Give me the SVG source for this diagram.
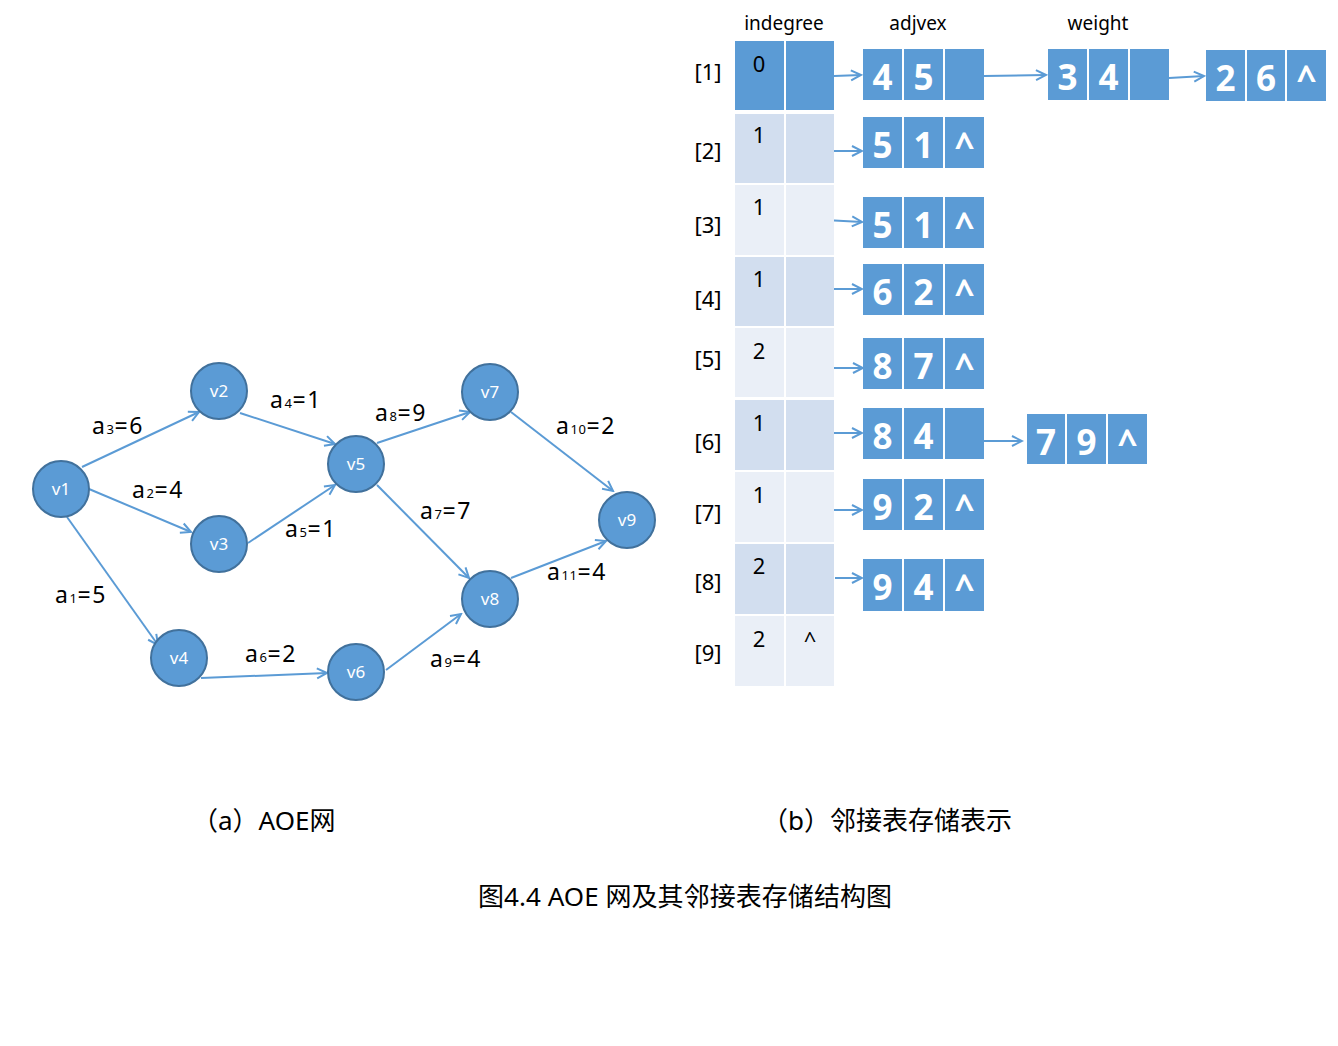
<svg xmlns="http://www.w3.org/2000/svg" width="1338" height="1046" viewBox="0 0 1338 1046">
<style>
.edge{stroke:#5b9bd5;stroke-width:2;fill:none}
.node circle{fill:#5b9bd5;stroke:#41719c;stroke-width:2}
.vl{fill:#fff;font-family:"Noto Sans","Open Sans",sans-serif;font-size:17px;text-anchor:middle}
.lbl{fill:#000;font-family:"Noto Sans","Open Sans",sans-serif;font-size:23px;letter-spacing:1.6px}
.sub{font-size:13px;letter-spacing:0.5px}
.dk{fill:#5b9bd5}
.e{fill:#d2deef}
.o{fill:#eaeff7}
.num{fill:#000;font-family:"Noto Sans","Open Sans",sans-serif;font-size:22px;text-anchor:middle}
.hd{fill:#000;font-family:"Noto Sans","Open Sans",sans-serif;font-size:19px;text-anchor:middle}
.box{fill:#5b9bd5}
.bt{fill:#fff;font-family:"Open Sans","Noto Sans",sans-serif;font-weight:bold;font-size:35px;text-anchor:middle}
.cap{fill:#000;font-family:"Noto Sans","Noto Sans CJK SC",sans-serif;font-size:26px}
.ttl{fill:#000;font-family:"Noto Sans","Noto Sans CJK SC",sans-serif;font-size:26px}
</style>
<defs>
<marker id="arr" markerUnits="userSpaceOnUse" markerWidth="14" markerHeight="14" refX="12" refY="7" orient="auto">
<path d="M2,2 L12,7 L2,12" fill="none" stroke="#5b9bd5" stroke-width="2"/>
</marker>
</defs>

<g id="connectors">
<line class="edge" x1="82" y1="467" x2="199" y2="412" marker-end="url(#arr)"/>
<line class="edge" x1="89" y1="489" x2="191" y2="532" marker-end="url(#arr)"/>
<line class="edge" x1="67" y1="517" x2="158" y2="645" marker-end="url(#arr)"/>
<line class="edge" x1="240" y1="413" x2="335" y2="444" marker-end="url(#arr)"/>
<line class="edge" x1="248" y1="543" x2="335" y2="485" marker-end="url(#arr)"/>
<line class="edge" x1="201" y1="678" x2="327" y2="673" marker-end="url(#arr)"/>
<line class="edge" x1="377" y1="443" x2="470" y2="412" marker-end="url(#arr)"/>
<line class="edge" x1="377" y1="485" x2="469" y2="578" marker-end="url(#arr)"/>
<line class="edge" x1="386" y1="670" x2="461" y2="614" marker-end="url(#arr)"/>
<line class="edge" x1="511" y1="412" x2="613" y2="491" marker-end="url(#arr)"/>
<line class="edge" x1="511" y1="578" x2="606" y2="541" marker-end="url(#arr)"/>
<line class="edge" x1="834" y1="76" x2="861" y2="75" marker-end="url(#arr)"/>
<line class="edge" x1="984" y1="76" x2="1046" y2="75" marker-end="url(#arr)"/>
<line class="edge" x1="1169" y1="78" x2="1204" y2="76" marker-end="url(#arr)"/>
<line class="edge" x1="831" y1="151" x2="862" y2="151" marker-end="url(#arr)"/>
<line class="edge" x1="825" y1="220" x2="862" y2="222" marker-end="url(#arr)"/>
<line class="edge" x1="820" y1="289" x2="862" y2="289" marker-end="url(#arr)"/>
<line class="edge" x1="827" y1="368" x2="863" y2="368" marker-end="url(#arr)"/>
<line class="edge" x1="831" y1="433" x2="862" y2="433" marker-end="url(#arr)"/>
<line class="edge" x1="984" y1="441" x2="1022" y2="441" marker-end="url(#arr)"/>
<line class="edge" x1="830" y1="510" x2="862" y2="510" marker-end="url(#arr)"/>
<line class="edge" x1="835" y1="578" x2="862" y2="578" marker-end="url(#arr)"/>
</g>

<g id="edge-labels">
<text class="lbl" x="92" y="434">a<tspan class="sub">3</tspan>=6</text>
<text class="lbl" x="270" y="408">a<tspan class="sub">4</tspan>=1</text>
<text class="lbl" x="132" y="498">a<tspan class="sub">2</tspan>=4</text>
<text class="lbl" x="285" y="537">a<tspan class="sub">5</tspan>=1</text>
<text class="lbl" x="55" y="603">a<tspan class="sub">1</tspan>=5</text>
<text class="lbl" x="245" y="662">a<tspan class="sub">6</tspan>=2</text>
<text class="lbl" x="375" y="421">a<tspan class="sub">8</tspan>=9</text>
<text class="lbl" x="556" y="434">a<tspan class="sub">10</tspan>=2</text>
<text class="lbl" x="420" y="519">a<tspan class="sub">7</tspan>=7</text>
<text class="lbl" x="547" y="580">a<tspan class="sub">11</tspan>=4</text>
<text class="lbl" x="430" y="667">a<tspan class="sub">9</tspan>=4</text>
</g>

<g id="v1" class="node"><circle cx="61" cy="489" r="28"/><text class="vl" x="61" y="495">v1</text></g>
<g id="v2" class="node"><circle cx="219" cy="391" r="28"/><text class="vl" x="219" y="397">v2</text></g>
<g id="v3" class="node"><circle cx="219" cy="544" r="28"/><text class="vl" x="219" y="550">v3</text></g>
<g id="v4" class="node"><circle cx="179" cy="658" r="28"/><text class="vl" x="179" y="664">v4</text></g>
<g id="v5" class="node"><circle cx="356" cy="464" r="28"/><text class="vl" x="356" y="470">v5</text></g>
<g id="v6" class="node"><circle cx="356" cy="672" r="28"/><text class="vl" x="356" y="678">v6</text></g>
<g id="v7" class="node"><circle cx="490" cy="392" r="28"/><text class="vl" x="490" y="398">v7</text></g>
<g id="v8" class="node"><circle cx="490" cy="599" r="28"/><text class="vl" x="490" y="605">v8</text></g>
<g id="v9" class="node"><circle cx="627" cy="520" r="28"/><text class="vl" x="627" y="526">v9</text></g>

<g id="headers">
<text class="hd" x="784" y="30">indegree</text>
<text class="hd" x="918" y="30">adjvex</text>
<text class="hd" x="1098" y="30">weight</text>
</g>

<g id="vertex-table">
<rect class="dk" x="735" y="41" width="49" height="69"/><rect class="dk" x="786" y="41" width="48" height="69"/>
<rect class="e" x="735" y="114" width="49" height="69"/><rect class="e" x="786" y="114" width="48" height="69"/>
<rect class="o" x="735" y="185" width="49" height="70"/><rect class="o" x="786" y="185" width="48" height="70"/>
<rect class="e" x="735" y="257" width="49" height="69"/><rect class="e" x="786" y="257" width="48" height="69"/>
<rect class="o" x="735" y="328" width="49" height="69"/><rect class="o" x="786" y="328" width="48" height="69"/>
<rect class="e" x="735" y="400" width="49" height="70"/><rect class="e" x="786" y="400" width="48" height="70"/>
<rect class="o" x="735" y="472" width="49" height="70"/><rect class="o" x="786" y="472" width="48" height="70"/>
<rect class="e" x="735" y="544" width="49" height="70"/><rect class="e" x="786" y="544" width="48" height="70"/>
<rect class="o" x="735" y="616" width="49" height="70"/><rect class="o" x="786" y="616" width="48" height="70"/>
<text class="num" x="759" y="72">0</text>
<text class="num" x="759" y="143">1</text>
<text class="num" x="759" y="215">1</text>
<text class="num" x="759" y="287">1</text>
<text class="num" x="759" y="359">2</text>
<text class="num" x="759" y="431">1</text>
<text class="num" x="759" y="503">1</text>
<text class="num" x="759" y="574">2</text>
<text class="num" x="759" y="647">2</text>
<text class="num" x="810" y="648">^</text>
<text class="num" x="708" y="80">[1]</text>
<text class="num" x="708" y="159">[2]</text>
<text class="num" x="708" y="233">[3]</text>
<text class="num" x="708" y="307">[4]</text>
<text class="num" x="708" y="367">[5]</text>
<text class="num" x="708" y="450">[6]</text>
<text class="num" x="708" y="521">[7]</text>
<text class="num" x="708" y="590">[8]</text>
<text class="num" x="708" y="661">[9]</text>
</g>

<g id="list1a"><rect class="box" x="863" y="49" width="39" height="51"/><rect class="box" x="904" y="49" width="39" height="51"/><rect class="box" x="945" y="49" width="39" height="51"/><text class="bt" x="882.5" y="90">4</text><text class="bt" x="923.5" y="90">5</text></g>
<g id="list1b"><rect class="box" x="1048" y="49" width="39" height="51"/><rect class="box" x="1089" y="49" width="39" height="51"/><rect class="box" x="1130" y="49" width="39" height="51"/><text class="bt" x="1067.5" y="90">3</text><text class="bt" x="1108.5" y="90">4</text></g>
<g id="list1c"><rect class="box" x="1206" y="50" width="39" height="51"/><rect class="box" x="1247" y="50" width="38" height="51"/><rect class="box" x="1287" y="50" width="39" height="51"/><text class="bt" x="1225.5" y="91">2</text><text class="bt" x="1266" y="91">6</text><text class="bt" x="1306.5" y="91">^</text></g>
<g id="list2"><rect class="box" x="863" y="117" width="39" height="51"/><rect class="box" x="904" y="117" width="39" height="51"/><rect class="box" x="945" y="117" width="39" height="51"/><text class="bt" x="882.5" y="158">5</text><text class="bt" x="923.5" y="158">1</text><text class="bt" x="964.5" y="158">^</text></g>
<g id="list3"><rect class="box" x="863" y="197" width="39" height="51"/><rect class="box" x="904" y="197" width="39" height="51"/><rect class="box" x="945" y="197" width="39" height="51"/><text class="bt" x="882.5" y="238">5</text><text class="bt" x="923.5" y="238">1</text><text class="bt" x="964.5" y="238">^</text></g>
<g id="list4"><rect class="box" x="863" y="264" width="39" height="51"/><rect class="box" x="904" y="264" width="39" height="51"/><rect class="box" x="945" y="264" width="39" height="51"/><text class="bt" x="882.5" y="305">6</text><text class="bt" x="923.5" y="305">2</text><text class="bt" x="964.5" y="305">^</text></g>
<g id="list5"><rect class="box" x="863" y="338" width="39" height="51"/><rect class="box" x="904" y="338" width="39" height="51"/><rect class="box" x="945" y="338" width="39" height="51"/><text class="bt" x="882.5" y="379">8</text><text class="bt" x="923.5" y="379">7</text><text class="bt" x="964.5" y="379">^</text></g>
<g id="list6a"><rect class="box" x="863" y="408" width="39" height="51"/><rect class="box" x="904" y="408" width="39" height="51"/><rect class="box" x="945" y="408" width="39" height="51"/><text class="bt" x="882.5" y="449">8</text><text class="bt" x="923.5" y="449">4</text></g>
<g id="list6b"><rect class="box" x="1027" y="414" width="38" height="50"/><rect class="box" x="1067" y="414" width="39" height="50"/><rect class="box" x="1108" y="414" width="39" height="50"/><text class="bt" x="1046" y="455">7</text><text class="bt" x="1086.5" y="455">9</text><text class="bt" x="1127.5" y="455">^</text></g>
<g id="list7"><rect class="box" x="863" y="479" width="39" height="51"/><rect class="box" x="904" y="479" width="39" height="51"/><rect class="box" x="945" y="479" width="39" height="51"/><text class="bt" x="882.5" y="520">9</text><text class="bt" x="923.5" y="520">2</text><text class="bt" x="964.5" y="520">^</text></g>
<g id="list8"><rect class="box" x="863" y="559" width="39" height="52"/><rect class="box" x="904" y="559" width="39" height="52"/><rect class="box" x="945" y="559" width="39" height="52"/><text class="bt" x="882.5" y="600">9</text><text class="bt" x="923.5" y="600">4</text><text class="bt" x="964.5" y="600">^</text></g>

<g id="captions">
<text class="cap" x="192" y="830">（a）AOE网</text>
<text class="cap" x="762" y="830">（b）邻接表存储表示</text>
<text class="ttl" x="478" y="906" textLength="414" lengthAdjust="spacing">图4.4 AOE 网及其邻接表存储结构图</text>
</g>
</svg>
